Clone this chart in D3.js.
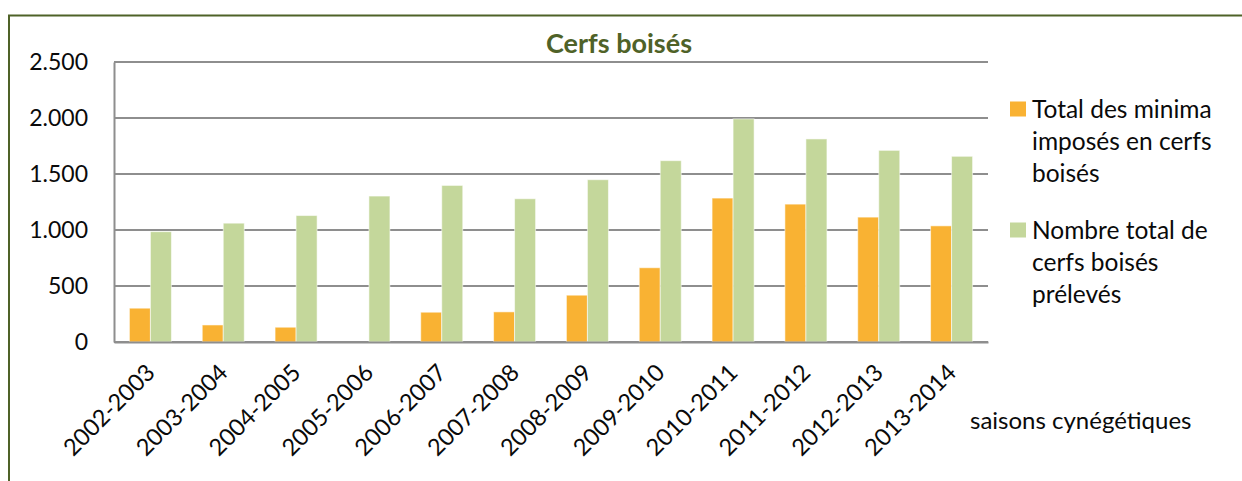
<!DOCTYPE html>
<html>
<head>
<meta charset="utf-8">
<script src="https://cdn.jsdelivr.net/npm/d3@7"></script>
<style>
  html, body { margin: 0; padding: 0; background: #fff; }
  svg { display: block; font-family: Lato, "Open Sans", sans-serif; }
</style>
</head>
<body>
<svg id="chart"></svg>
<script>
// data
var seasons = ['2002-2003', '2003-2004', '2004-2005', '2005-2006', '2006-2007', '2007-2008',
  '2008-2009', '2009-2010', '2010-2011', '2011-2012', '2012-2013', '2013-2014'];
var minimaImposes = [302, 152, 132, 0, 266, 269, 418, 663, 1285, 1231, 1115, 1037];
var cerfsPreleves = [985, 1061, 1129, 1303, 1398, 1279, 1449, 1619, 1992, 1813, 1711, 1658];
var seriesNames = ['Total des minima imposés en cerfs boisés', 'Nombre total de cerfs boisés prélevés'];
var legendLines = [['Total des minima', 'imposés en cerfs', 'boisés'], ['Nombre total de', 'cerfs boisés', 'prélevés']];
var yTicks = [0, 500, 1000, 1500, 2000, 2500];

//UI configuration
var width = 1242,
    height = 481,
    plot = { left: 114, right: 988, top: 62, bottom: 342 },
    colors = ['#F9B233', '#C4D79B'],
    olive = '#4F6228',
    gridColor = '#8E8E8E',
    textColor = '#0a0a0a';

var svg = d3.select('#chart').attr('width', width).attr('height', height);

// frame (left + top border)
svg.append('path')
  .attr('d', 'M9,' + height + 'V15.5H' + width)
  .attr('fill', 'none')
  .attr('stroke', olive)
  .attr('stroke-width', 2);

var fr = d3.formatLocale({ decimal: ',', thousands: '.', grouping: [3], currency: ['', ' €'] });
var fmt = fr.format(',d');

var x0 = d3.scaleBand()
  .domain(seasons)
  .range([plot.left, plot.right])
  .paddingInner(0.423)
  .paddingOuter(0.2115);
var x1 = d3.scaleBand()
  .domain([0, 1])
  .range([0, x0.bandwidth()]);
var y = d3.scaleLinear()
  .domain([0, 2500])
  .range([plot.bottom, plot.top]);

// gridlines
svg.append('g')
  .selectAll('line')
  .data(yTicks)
  .enter().append('line')
  .attr('x1', plot.left)
  .attr('x2', plot.right)
  .attr('y1', function (d) { return y(d); })
  .attr('y2', function (d) { return y(d); })
  .attr('stroke', gridColor)
  .attr('stroke-width', 2);

// y axis
var yAxis = d3.axisLeft(y).tickValues(yTicks).tickFormat(fmt).tickSize(0).tickPadding(26);
var gy = svg.append('g')
  .attr('transform', 'translate(' + plot.left + ',0)')
  .call(yAxis);
gy.select('.domain').attr('stroke', gridColor).attr('stroke-width', 2);
gy.selectAll('text')
  .attr('font-family', 'Lato, sans-serif')
  .attr('font-size', 23)
  .attr('fill', textColor);

// bars
var data = seasons.map(function (s, i) {
  return { season: s, values: [minimaImposes[i], cerfsPreleves[i]] };
});
var groups = svg.append('g')
  .selectAll('g')
  .data(data)
  .enter().append('g')
  .attr('transform', function (d) { return 'translate(' + x0(d.season) + ',0)'; });
groups.selectAll('rect')
  .data(function (d) { return d.values.map(function (v, k) { return { k: k, v: v }; }); })
  .enter().append('rect')
  .filter(function (d) { return d.v > 0; })
  .attr('x', function (d) { return x1(d.k); })
  .attr('width', x1.bandwidth())
  .attr('y', function (d) { return y(d.v); })
  .attr('height', function (d) { return y(0) - y(d.v); })
  .attr('fill', function (d) { return colors[d.k]; })
  .attr('stroke', 'rgba(255,255,255,0.55)')
  .attr('stroke-width', 1)
  .append('title')
  .text(function (d) { return seriesNames[d.k] + ': ' + fmt(d.v); });

// x axis
var xAxis = d3.axisBottom(x0).tickSize(0).tickPadding(0);
var gx = svg.append('g')
  .attr('transform', 'translate(0,' + plot.bottom + ')')
  .call(xAxis);
gx.select('.domain').attr('stroke', gridColor).attr('stroke-width', 2);
gx.selectAll('text')
  .attr('font-family', 'Lato, sans-serif')
  .attr('font-size', 23.5)
  .attr('fill', textColor)
  .attr('text-anchor', 'end')
  .attr('dy', null)
  .attr('y', null)
  .attr('transform', 'translate(6,32) rotate(-45)');

// title
svg.append('text')
  .attr('x', 619)
  .attr('y', 53)
  .attr('text-anchor', 'middle')
  .attr('font-size', 27)
  .attr('font-weight', 'bold')
  .attr('fill', olive)
  .text('Cerfs boisés');

// axis title
svg.append('text')
  .attr('x', 970)
  .attr('y', 429)
  .attr('font-size', 24)
  .attr('fill', textColor)
  .text('saisons cynégétiques');

// legend
var legend = svg.append('g')
  .selectAll('g')
  .data(legendLines)
  .enter().append('g')
  .attr('transform', function (d, i) { return 'translate(1010,' + (i === 0 ? 101.5 : 222.5) + ')'; });
legend.append('rect')
  .attr('width', 16)
  .attr('height', 15)
  .attr('fill', function (d, i) { return colors[i]; });
legend.append('text')
  .attr('font-size', 24.5)
  .attr('fill', textColor)
  .selectAll('tspan')
  .data(function (d) { return d; })
  .enter().append('tspan')
  .attr('x', 22)
  .attr('y', function (d, i) { return 16 + i * 32; })
  .text(function (d) { return d; });
</script>
</body>
</html>
